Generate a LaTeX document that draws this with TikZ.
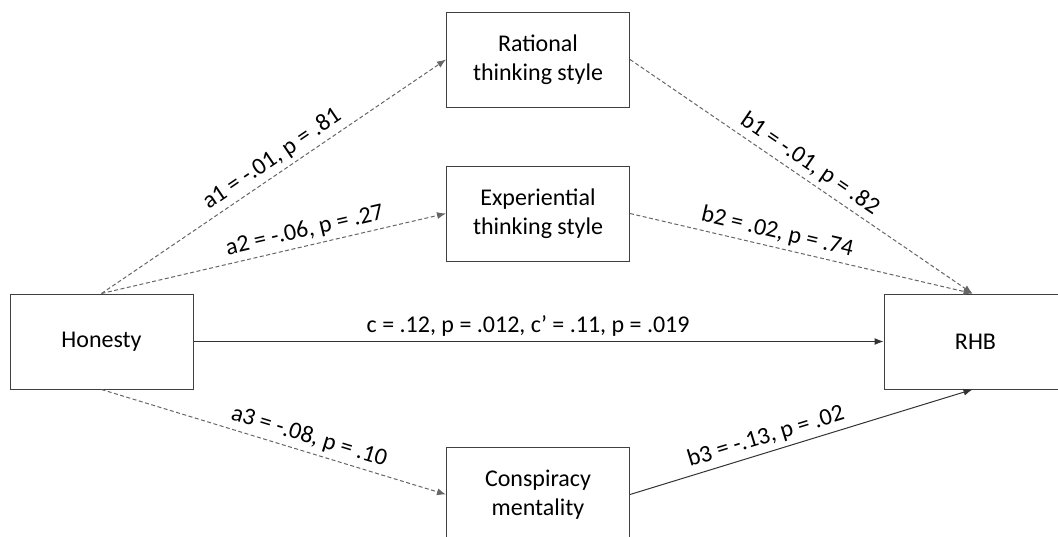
\documentclass[tikz,border=0pt]{standalone}
\usepackage{fontspec}
\setmainfont{Carlito}
\usetikzlibrary{arrows.meta}

\tikzset{
  varbox/.style={draw=black!75, line width=1pt, minimum width=183pt, minimum height=95pt,
    inner sep=0pt, align=center, font=\fontsize{24}{29}\selectfont},
  effect/.style={draw=black!80, line width=1pt, -{Latex[length=9pt,width=7pt]}},
  weakeffect/.style={effect, draw=black!60, dash pattern=on 4pt off 2.5pt},
  coef/.style={sloped, above, inner sep=4.5pt, font=\fontsize{24}{29}\selectfont}
}

\begin{document}
\begin{tikzpicture}[x=1pt, y=-1pt]
  \useasboundingbox (0,0) rectangle (1058,536);
  \clip (0,0) rectangle (1058,536);
  % variables
  \node[varbox] (honesty) at (101.5,341.5) {Honesty};
  \node[varbox] (rational) at (538,59.5) {Rational\\thinking style};
  \node[varbox] (experiential) at (538,213.5) {Experiential\\thinking style};
  \node[varbox] (conspiracy) at (538,494.5) {Conspiracy\\mentality};
  \node[varbox] (rhb) at (975.5,341.5) {RHB};
  % a paths
  \draw[weakeffect] (honesty.north) -- node[coef, pos=0.52] {a1 = -.01, p = .81} (rational.west);
  \draw[weakeffect] (honesty.north) -- node[coef, pos=0.6] {a2 = -.06, p = .27} (experiential.west);
  \draw[weakeffect] (honesty.south) -- node[coef, pos=0.59] {a3 = -.08, p = .10} (conspiracy.west);
  % direct path
  \draw[effect] (honesty.east) -- node[coef, pos=0.485] {c = .12, p = .012, c’ = .11, p = .019} (rhb.west);
  % b paths
  \draw[weakeffect] (rational.east) -- node[coef, pos=0.5] {b1 = -.01, p = .82} ([xshift=-3pt]rhb.north);
  \draw[weakeffect] (experiential.east) -- node[coef, pos=0.42] {b2 = .02, p = .74} ([xshift=-3pt]rhb.north);
  \draw[effect] (conspiracy.east) -- node[coef, pos=0.41] {b3 = -.13, p = .02} ([xshift=-3pt]rhb.south);
\end{tikzpicture}
\end{document}
